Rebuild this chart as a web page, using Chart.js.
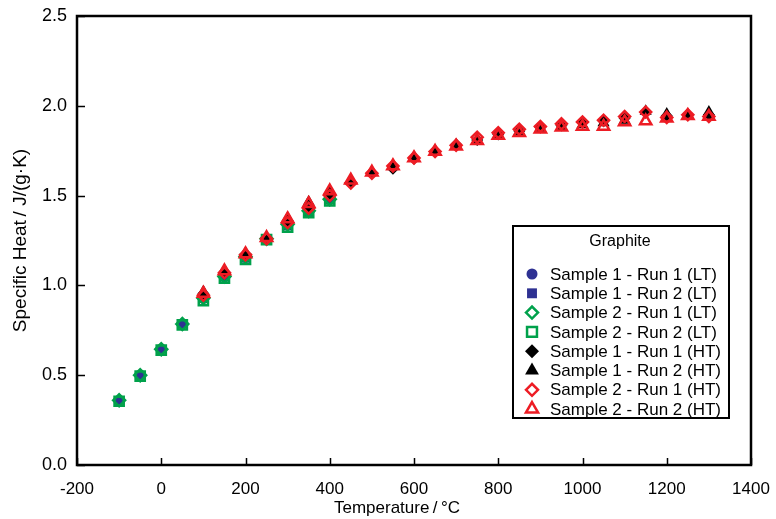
<!DOCTYPE html>
<html>
<head>
<meta charset="utf-8">
<script src="https://cdn.jsdelivr.net/npm/chart.js@4.4.1/dist/chart.umd.min.js"></script>
<style>
  html, body { margin: 0; padding: 0; background: #fff; }
  #wrap { width: 776px; height: 519px; }
</style>
</head>
<body>
<div id="wrap"><canvas id="cpChart"></canvas></div>
<script>
// temperatures (°C) for the two instruments
const tempsLT = [-100, -50, 0, 50, 100, 150, 200, 250, 300, 350, 400];
const tempsHT = [100, 150, 200, 250, 300, 350, 400, 450, 500, 550, 600, 650, 700,
                 750, 800, 850, 900, 950, 1000, 1050, 1100, 1150, 1200, 1250, 1300];

// specific heat J/(g·K)
const s1r1LT = [0.36, 0.50, 0.645, 0.785, 0.93, 1.05, 1.155, 1.26, 1.335, 1.41, 1.48];
const s1r2LT = [0.36, 0.50, 0.645, 0.785, 0.925, 1.045, 1.15, 1.255, 1.33, 1.41, 1.475];
const s2r1LT = [0.36, 0.50, 0.645, 0.785, 0.93, 1.05, 1.16, 1.26, 1.34, 1.415, 1.48];
const s2r2LT = [0.355, 0.495, 0.64, 0.78, 0.915, 1.04, 1.145, 1.255, 1.325, 1.405, 1.47];

const s1r1HT = [0.955, 1.075, 1.175, 1.26, 1.36, 1.44, 1.51, 1.575, 1.625, 1.65, 1.705, 1.745, 1.785,
                1.81, 1.84, 1.86, 1.88, 1.89, 1.905, 1.915, 1.93, 1.965, 1.945, 1.95, 1.95];
const s1r2HT = [0.965, 1.085, 1.18, 1.265, 1.375, 1.465, 1.525, 1.585, 1.63, 1.665, 1.71, 1.75, 1.78,
                1.81, 1.835, 1.855, 1.875, 1.885, 1.895, 1.905, 1.92, 1.97, 1.955, 1.945, 1.965];
const s2r1HT = [0.945, 1.07, 1.17, 1.26, 1.35, 1.43, 1.50, 1.57, 1.625, 1.665, 1.71, 1.745, 1.78,
                1.825, 1.85, 1.87, 1.885, 1.90, 1.91, 1.92, 1.94, 1.965, 1.935, 1.95, 1.94];
const s2r2HT = [0.955, 1.08, 1.175, 1.265, 1.37, 1.455, 1.525, 1.585, 1.63, 1.665, 1.71, 1.745, 1.775,
                1.805, 1.835, 1.85, 1.87, 1.88, 1.885, 1.885, 1.91, 1.915, 1.93, 1.945, 1.94];

const seriesLabels = [
    'Sample 1 - Run 1 (LT)', 'Sample 1 - Run 2 (LT)', 'Sample 2 - Run 1 (LT)', 'Sample 2 - Run 2 (LT)',
    'Sample 1 - Run 1 (HT)', 'Sample 1 - Run 2 (HT)', 'Sample 2 - Run 1 (HT)', 'Sample 2 - Run 2 (HT)'
];
const xTicks = [-200, 0, 200, 400, 600, 800, 1000, 1200, 1400];
const yTicks = [0, 0.5, 1.0, 1.5, 2.0, 2.5];

const NAVY = '#2e3192';
const GREEN = '#00a14b';
const RED = '#ed1c24';
const BLACK = '#000000';
const NONE = 'rgba(0,0,0,0)';
const FONT = '"Liberation Sans", Arial, sans-serif';

function pts(xs, ys) {
    return xs.map((x, i) => ({ x: x, y: ys[i] }));
}

// shape, fill, stroke, radius (plot / legend) for each series
const styles = [
    { shape: 'circle', fill: NAVY, stroke: NAVY, r: 4.5, lr: 5.5, bw: 0 },
    { shape: 'rect', fill: NAVY, stroke: NAVY, r: 6, lr: 7, bw: 0 },
    { shape: 'rectRot', fill: NONE, stroke: GREEN, r: 6, lr: 6, bw: 2.5 },
    { shape: 'rect', fill: NONE, stroke: GREEN, r: 6.5, lr: 7, bw: 2.5 },
    { shape: 'rectRot', fill: BLACK, stroke: BLACK, r: 6, lr: 7, bw: 0 },
    { shape: 'triangle', fill: BLACK, stroke: BLACK, r: 7, lr: 8, bw: 0 },
    { shape: 'rectRot', fill: NONE, stroke: RED, r: 5.5, lr: 6, bw: 2.5 },
    { shape: 'triangle', fill: NONE, stroke: RED, r: 6.5, lr: 7, bw: 2.5 }
];
const values = [
    pts(tempsLT, s1r1LT), pts(tempsLT, s1r2LT), pts(tempsLT, s2r1LT), pts(tempsLT, s2r2LT),
    pts(tempsHT, s1r1HT), pts(tempsHT, s1r2HT), pts(tempsHT, s2r1HT), pts(tempsHT, s2r2HT)
];

const datasets = values.map((d, i) => ({
    label: seriesLabels[i],
    data: d,
    showLine: false,
    pointStyle: styles[i].shape,
    pointRadius: styles[i].r,
    pointHoverRadius: styles[i].r,
    pointBackgroundColor: styles[i].fill,
    pointBorderColor: styles[i].stroke,
    pointBorderWidth: styles[i].bw,
    order: values.length - i   // later series drawn on top
}));

// frame, inward ticks and the boxed legend
const framePlugin = {
    id: 'frame',
    afterDraw(chart) {
        const ctx = chart.ctx;
        const a = chart.chartArea;
        const xs = chart.scales.x, ys = chart.scales.y;
        ctx.save();
        ctx.strokeStyle = '#000';
        ctx.lineWidth = 2.5;
        ctx.strokeRect(a.left, a.top, a.right - a.left, a.bottom - a.top);
        ctx.lineWidth = 1.5;
        ctx.beginPath();
        xTicks.forEach(v => {
            const px = Math.round(xs.getPixelForValue(v)) + 0.5;
            ctx.moveTo(px, a.bottom);
            ctx.lineTo(px, a.bottom - 7);
        });
        yTicks.forEach(v => {
            const py = Math.round(ys.getPixelForValue(v)) + 0.5;
            ctx.moveTo(a.left, py);
            ctx.lineTo(a.left + 8, py);
        });
        ctx.stroke();

        // legend box
        const bx = 513, by = 226, bw = 216, bh = 192;
        ctx.fillStyle = '#fff';
        ctx.fillRect(bx, by, bw, bh);
        ctx.lineWidth = 2;
        ctx.strokeRect(bx, by, bw, bh);
        ctx.fillStyle = '#000';
        ctx.font = '16px ' + FONT;
        ctx.textAlign = 'center';
        ctx.textBaseline = 'middle';
        ctx.fillText('Graphite', bx + 107, by + 16);
        ctx.textAlign = 'left';
        ctx.font = '17px ' + FONT;
        chart.data.datasets.forEach((ds, i) => {
            const y = by + 48 + i * 19.3;
            const s = styles[i];
            ctx.fillStyle = s.fill;
            ctx.strokeStyle = s.stroke;
            ctx.lineWidth = s.bw;
            Chart.helpers.drawPoint(ctx, { pointStyle: s.shape, radius: s.lr, borderWidth: s.bw }, bx + 19, y);
            ctx.fillStyle = '#000';
            ctx.fillText(ds.label, bx + 37, y + 1);
        });
        ctx.restore();
    }
};

const ctx = document.getElementById('cpChart').getContext('2d');
new Chart(ctx, {
    type: 'scatter',
    data: { datasets: datasets },
    options: {
        responsive: true,
        maintainAspectRatio: false,
        animation: false,
        events: [],
        layout: { padding: { top: 16, right: 25, left: 0, bottom: 0 } },
        plugins: {
            legend: { display: false },
            tooltip: { enabled: false }
        },
        scales: {
            x: {
                type: 'linear',
                min: -200,
                max: 1400,
                afterBuildTicks: scale => { scale.ticks = xTicks.map(v => ({ value: v })); },
                afterFit: scale => {
                    scale.height = 54;
                    scale.paddingLeft = 0;
                    scale.paddingRight = 0;
                },
                grid: { display: false },
                border: { display: false },
                ticks: {
                    padding: 6,
                    maxRotation: 0,
                    color: '#000',
                    callback: v => String(v),
                    font: { family: FONT, size: 17 }
                },
                title: {
                    display: true,
                    // trailing em spaces nudge the title left like the original
                    text: 'Temperature\u2009/\u2009°C\u2003\u2003',
                    color: '#000',
                    padding: { top: 0, bottom: 0 },
                    font: { family: FONT, size: 17 }
                }
            },
            y: {
                type: 'linear',
                min: 0,
                max: 2.5,
                afterBuildTicks: scale => { scale.ticks = yTicks.map(v => ({ value: v })); },
                afterFit: scale => {
                    scale.width = 77;
                    scale.paddingTop = 0;
                    scale.paddingBottom = 0;
                },
                grid: { display: false },
                border: { display: false },
                ticks: {
                    padding: 2,
                    color: '#000',
                    callback: v => v.toFixed(1),
                    font: { family: FONT, size: 18 }
                },
                title: {
                    display: true,
                    text: 'Specific Heat\u2009/ J/(g·K)',
                    color: '#000',
                    padding: { top: 9, bottom: 0 },
                    font: { family: FONT, size: 19 }
                }
            }
        }
    },
    plugins: [framePlugin]
});
</script>
</body>
</html>
